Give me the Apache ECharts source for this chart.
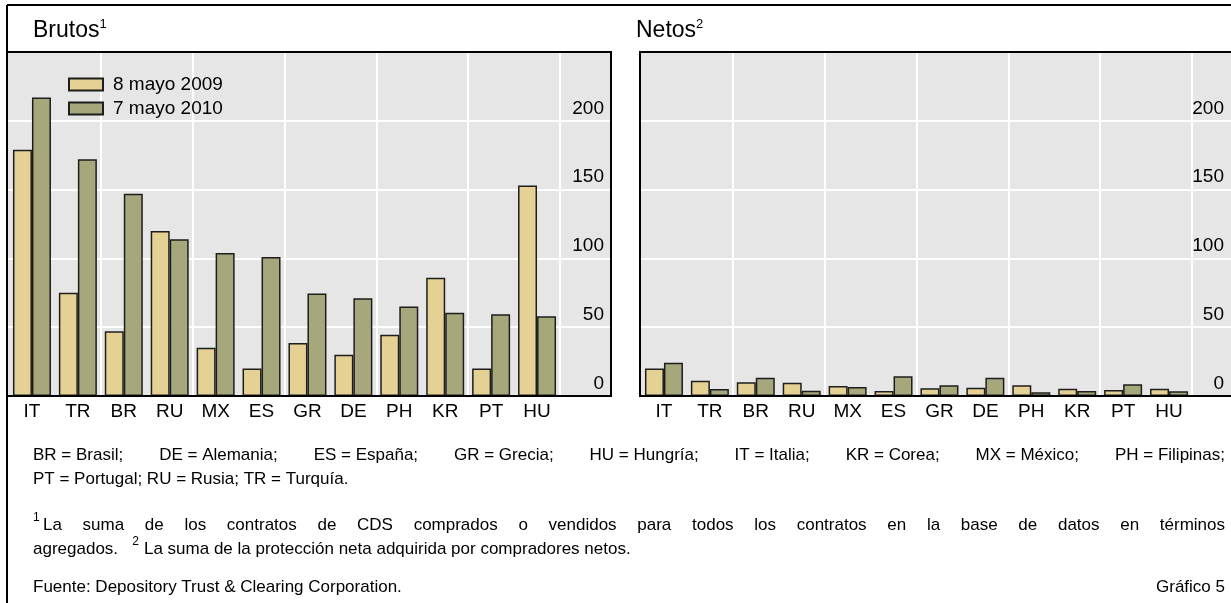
<!DOCTYPE html>
<html>
<head>
<meta charset="utf-8">
<script src="https://cdn.jsdelivr.net/npm/echarts@6/dist/echarts.min.js"></script>
<style>
  html, body { margin: 0; padding: 0; background: #fff; }
  #main { width: 1231px; height: 603px; }
</style>
</head>
<body>
<div id="main"></div>
<script>
  var categories = ['IT', 'TR', 'BR', 'RU', 'MX', 'ES', 'GR', 'DE', 'PH', 'KR', 'PT', 'HU'];
  var seriesNames = ['8 mayo 2009', '7 mayo 2010'];
  // Brutos (gross)
  var grossMay2009 = [179, 75, 47, 120, 35, 20, 38.5, 30, 44.5, 86, 20, 153];
  var grossMay2010 = [217, 172, 147, 114, 104, 101, 74.5, 71, 65, 60.5, 59.5, 58];
  // Netos (net)
  var netMay2009 = [20, 11, 10, 9.7, 7.3, 3.6, 5.6, 6, 7.8, 5.3, 4.4, 5.3];
  var netMay2010 = [24.2, 5.1, 13.3, 3.9, 6.5, 14.3, 7.8, 13.3, 2.7, 3.6, 8.5, 3.4];
  var yMin = 0, yMax = 250, yStep = 50;

  var colorYellow = '#e4d193';
  var colorGreen = '#a6a77b';
  var colorBorder = '#1e1e1e';
  var colorPlot = '#e6e6e6';
  var fontFamily = '"Liberation Sans", Arial, sans-serif';

  var chart = echarts.init(document.getElementById('main'));

  var ctx = document.createElement('canvas').getContext('2d');
  function measure(txt, size) {
    ctx.font = size + 'px ' + fontFamily;
    return ctx.measureText(txt).width;
  }

  // place text pieces spread between x0 and x1
  function justified(pieces, x0, x1, y, size) {
    var widths = pieces.map(function(p) { return measure(p, size); });
    var total = widths.reduce(function(a, b) { return a + b; }, 0);
    var gap = (x1 - x0 - total) / (pieces.length - 1);
    var out = [], x = x0;
    pieces.forEach(function(p, i) {
      out.push({ type: 'text', x: x, y: y, style: { text: p, font: size + 'px ' + fontFamily, fill: '#000', verticalAlign: 'middle' } });
      x += widths[i] + gap;
    });
    return out;
  }

  function plain(txt, x, y, size, align) {
    return { type: 'text', x: x, y: y, style: { text: txt, font: size + 'px ' + fontFamily, fill: '#000', verticalAlign: 'middle', align: align || 'left' } };
  }

  function sup(n, x, y) {
    return { type: 'text', x: x, y: y, style: { text: n, font: '12px ' + fontFamily, fill: '#000', verticalAlign: 'middle' } };
  }

  function titleText(name, n, x, y) {
    return {
      type: 'text', x: x, y: y,
      style: {
        text: '{t|' + name + '}{s|' + n + '}',
        rich: {
          t: { fontSize: 23, fontFamily: fontFamily, fill: '#000', lineHeight: 26 },
          s: { fontSize: 13, fontFamily: fontFamily, fill: '#000', lineHeight: 13, verticalAlign: 'top' }
        },
        verticalAlign: 'middle'
      }
    };
  }

  var fs = 17;
  var graphics = [
    { type: 'line', z: 100, shape: { x1: 7, y1: 5, x2: 1231, y2: 5 }, style: { stroke: '#000', lineWidth: 2 } },
    { type: 'line', z: 100, shape: { x1: 7, y1: 5, x2: 7, y2: 603 }, style: { stroke: '#000', lineWidth: 2 } },
    { type: 'rect', z: 100, shape: { x: 7, y: 52, width: 604, height: 344 }, style: { fill: null, stroke: '#000', lineWidth: 2 } },
    { type: 'rect', z: 100, shape: { x: 640, y: 52, width: 603, height: 344 }, style: { fill: null, stroke: '#000', lineWidth: 2 } },
    titleText('Brutos', '1', 33, 31),
    titleText('Netos', '2', 636, 31)
  ];
  graphics = graphics.concat(justified(['BR = Brasil;', 'DE = Alemania;', 'ES = España;', 'GR = Grecia;', 'HU = Hungría;', 'IT = Italia;', 'KR = Corea;', 'MX = México;', 'PH = Filipinas;'], 33, 1225, 455, fs));
  graphics.push(plain('PT = Portugal; RU = Rusia; TR = Turquía.', 33, 479, fs));
  graphics.push(sup('1', 33, 518));
  graphics = graphics.concat(justified('La suma de los contratos de CDS comprados o vendidos para todos los contratos en la base de datos en términos'.split(' '), 43, 1225, 525, fs));
  var agW = measure('agregados.', fs);
  var sup2X = 33 + agW + measure('   ', fs);
  graphics.push(plain('agregados.', 33, 549, fs));
  graphics.push(sup('2', sup2X, 542));
  graphics.push(plain('La suma de la protección neta adquirida por compradores netos.', sup2X + 7 + measure(' ', fs), 549, fs));
  graphics.push(plain('Fuente: Depository Trust & Clearing Corporation.', 33, 587, fs));
  graphics.push(plain('Gráfico 5', 1225, 587, fs, 'right'));

  function bgGrid(left) {
    return { left: left, top: 52, width: 603, height: 344, show: true, backgroundColor: colorPlot, borderWidth: 0 };
  }
  function barGrid(left) {
    return { left: left, top: 52, width: 551, height: 344, show: false };
  }

  function bgX(gi) {
    return {
      type: 'value', gridIndex: gi, min: 0, max: 1,
      axisLine: { show: true, lineStyle: { color: '#000', width: 2 } },
      axisTick: { show: false }, axisLabel: { show: false }, splitLine: { show: false }
    };
  }
  function catX(gi) {
    return {
      type: 'category', gridIndex: gi, data: categories,
      axisLine: { show: false }, axisTick: { show: false },
      axisLabel: { color: '#000', fontSize: 19, fontFamily: fontFamily, margin: 6, interval: 0 },
      splitLine: {
        show: true,
        interval: function(index) { return index > 0 && index % 2 === 0; },
        lineStyle: { color: '#ffffff', width: 2 }
      }
    };
  }
  function bgY(gi) {
    return {
      type: 'value', gridIndex: gi, position: 'right', min: yMin, max: yMax, interval: yStep,
      axisLine: { show: false }, axisTick: { show: false },
      axisLabel: {
        inside: true, margin: 7, align: 'right', verticalAlign: 'bottom', padding: [0, 0, 3, 0],
        color: '#000', fontSize: 19, fontFamily: fontFamily,
        formatter: function(v) { return v >= yMax ? '' : String(v); }
      },
      splitLine: { show: true, lineStyle: { color: '#ffffff', width: 2 } }
    };
  }
  function barY(gi) {
    return { type: 'value', gridIndex: gi, min: yMin, max: yMax, interval: yStep, show: false, splitLine: { show: false } };
  }

  function barSeries(name, data, color, ai) {
    return {
      name: name, type: 'bar', xAxisIndex: ai, yAxisIndex: ai, data: data,
      barWidth: 19, barGap: '0%',
      itemStyle: { color: color, borderColor: colorBorder, borderWidth: 1.5 },
      emphasis: { disabled: true }
    };
  }

  chart.setOption({
    animation: false,
    textStyle: { fontFamily: fontFamily },
    legend: {
      data: seriesNames, orient: 'vertical', left: 68, top: 75, padding: 0,
      itemWidth: 34, itemHeight: 12, itemGap: 5, selectedMode: false,
      icon: 'rect',
      textStyle: { color: '#000', fontSize: 19, fontFamily: fontFamily, padding: [0, 0, 0, 5] }
    },
    grid: [bgGrid(8), barGrid(9), bgGrid(640), barGrid(641)],
    xAxis: [bgX(0), catX(1), bgX(2), catX(3)],
    yAxis: [bgY(0), barY(1), bgY(2), barY(3)],
    series: [
      barSeries(seriesNames[0], grossMay2009, colorYellow, 1),
      barSeries(seriesNames[1], grossMay2010, colorGreen, 1),
      barSeries(seriesNames[0], netMay2009, colorYellow, 3),
      barSeries(seriesNames[1], netMay2010, colorGreen, 3)
    ],
    graphic: graphics
  });
</script>
</body>
</html>
